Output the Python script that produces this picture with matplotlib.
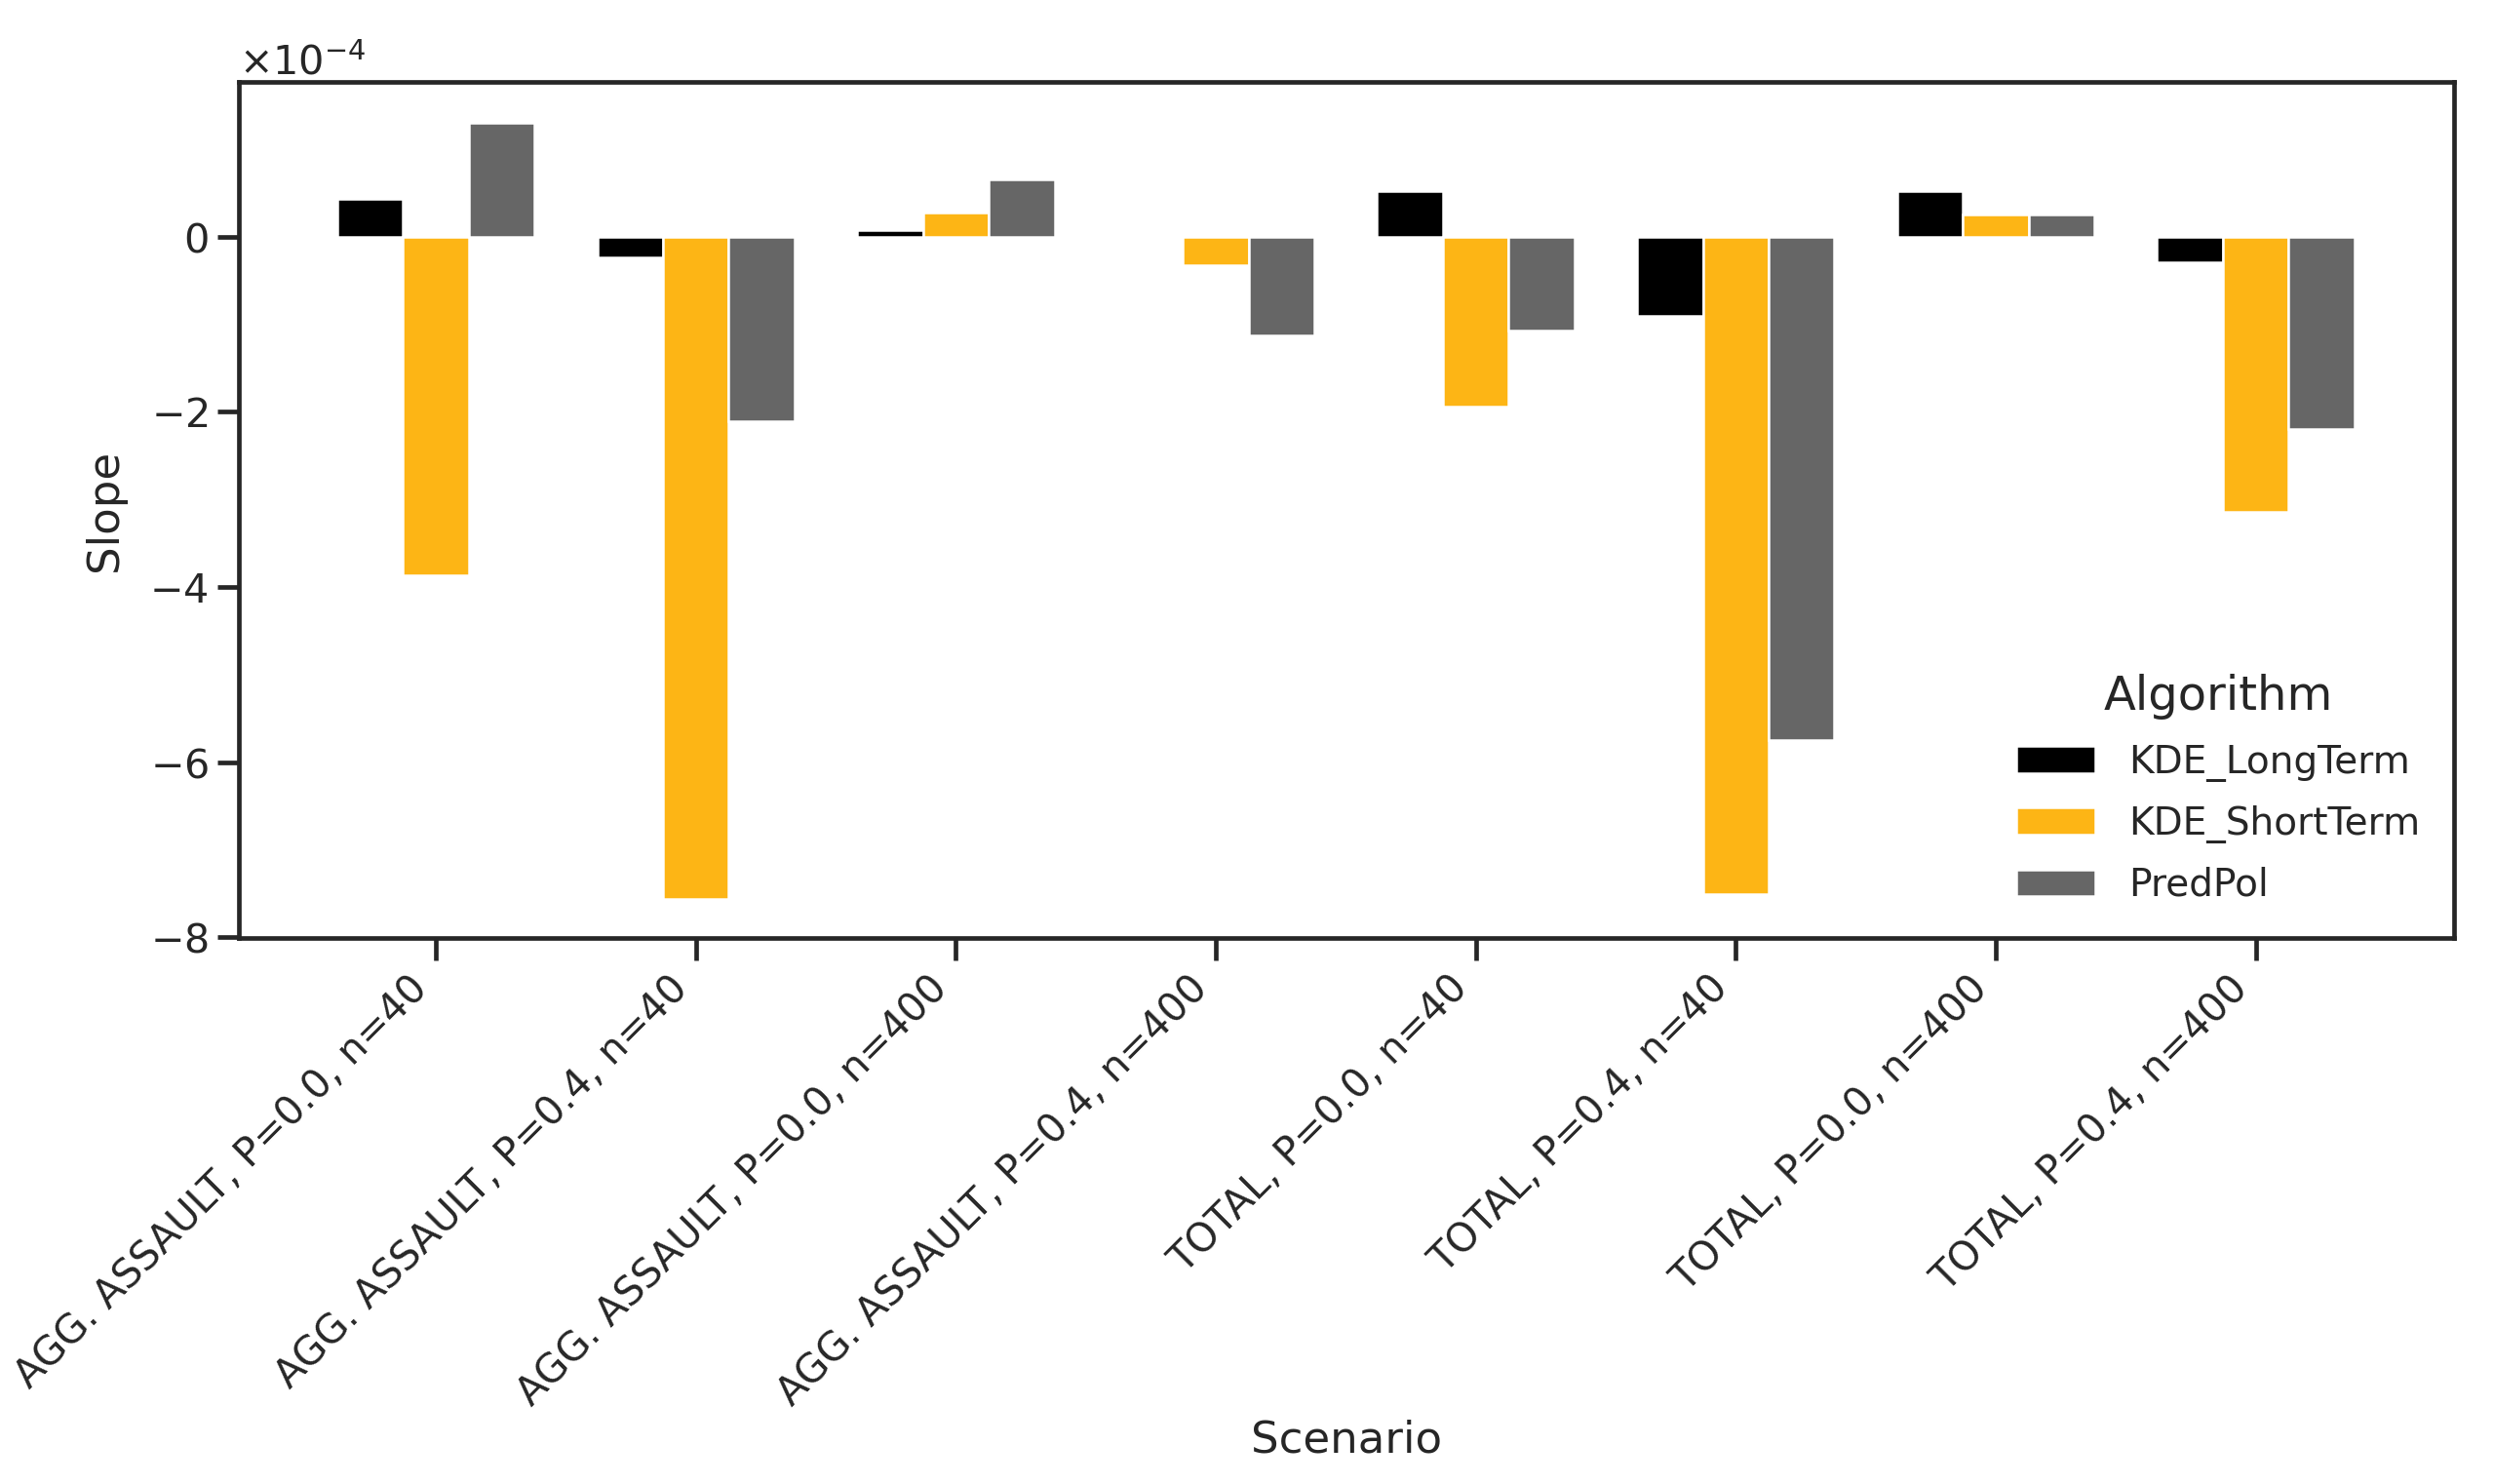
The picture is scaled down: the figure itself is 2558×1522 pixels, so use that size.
import numpy as np
import matplotlib
matplotlib.use("Agg")
import matplotlib.pyplot as plt

scenarios = [
    "AGG. ASSAULT, P=0.0, n=40",
    "AGG. ASSAULT, P=0.4, n=40",
    "AGG. ASSAULT, P=0.0, n=400",
    "AGG. ASSAULT, P=0.4, n=400",
    "TOTAL, P=0.0, n=40",
    "TOTAL, P=0.4, n=40",
    "TOTAL, P=0.0, n=400",
    "TOTAL, P=0.4, n=400",
]
algorithms = ["KDE_LongTerm", "KDE_ShortTerm", "PredPol"]
kde_longterm = [0.43e-4, -0.23e-4, 0.08e-4, -0.01e-4, 0.52e-4, -0.90e-4, 0.52e-4, -0.29e-4]
kde_shortterm = [-3.87e-4, -7.57e-4, 0.28e-4, -0.32e-4, -1.94e-4, -7.51e-4, 0.26e-4, -3.14e-4]
predpol = [1.30e-4, -2.11e-4, 0.66e-4, -1.13e-4, -1.07e-4, -5.75e-4, 0.26e-4, -2.19e-4]
colors = ["#000000", "#FDB515", "#666666"]

DPI = 180
ink = "#262626"
plt.rcParams.update({
    "font.family": "DejaVu Sans",
    "axes.edgecolor": ink,
    "axes.linewidth": 1.875,
    "xtick.color": ink,
    "ytick.color": ink,
    "xtick.major.width": 1.875,
    "ytick.major.width": 1.875,
    "xtick.major.size": 9,
    "ytick.major.size": 9,
    "text.color": ink,
    "axes.labelcolor": ink,
})

fig = plt.figure(figsize=(2558 / DPI, 1522 / DPI), dpi=DPI)
ax = fig.add_axes([245 / 2558, 1 - 962 / 1522, (2517 - 245) / 2558, (962 - 84) / 1522])

series = [kde_longterm, kde_shortterm, predpol]
x = np.arange(len(scenarios))
slot = 0.253
for j, (name, vals, c) in enumerate(zip(algorithms, series, colors)):
    ax.bar(x + (j - 1) * slot, vals, width=slot, color=c, edgecolor="white",
           linewidth=1.0, label=name)

ax.set_xlim(-0.758, 7.763)
ax.set_xticks(x)
ax.set_xticklabels(scenarios, rotation=45, ha="right", fontsize=16.2)
ax.tick_params(axis="y", labelsize=16.5)
ax.ticklabel_format(axis="y", style="sci", scilimits=(0, 0), useMathText=True)
ax.yaxis.get_offset_text().set_fontsize(16.5)
ax.set_yticks([0, -2e-4, -4e-4, -6e-4, -8e-4])
ax.set_ylim(-8.01e-4, 1.77e-4)
ax.set_xlabel("Scenario", fontsize=18, labelpad=2.5)
ax.set_ylabel("Slope", fontsize=18, labelpad=9.5)

leg = ax.legend(title="Algorithm", loc="lower right", frameon=False,
                fontsize=15.6, title_fontsize=19.2, handlelength=2.08,
                handletextpad=0.85, labelspacing=0.62)

fig.savefig("out.png", dpi=DPI)
